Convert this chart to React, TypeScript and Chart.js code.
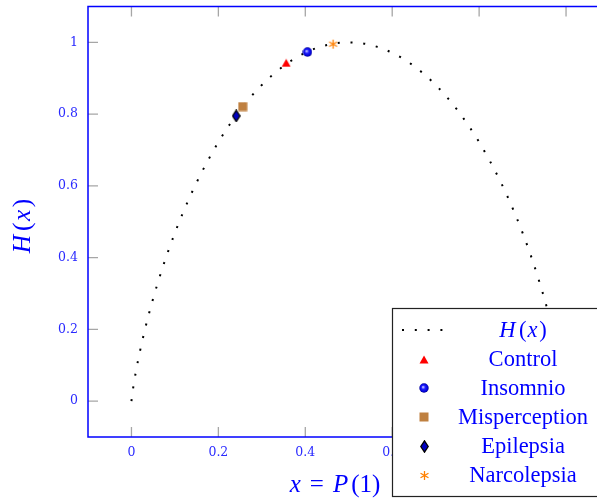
import React, { useEffect, useRef } from 'react';
import { Chart, registerables } from 'chart.js';

Chart.register(...registerables);

// ---- data ----
const curveX = [0, 0.001, 0.002, 0.005, 0.01, 0.02, 0.03, 0.04, 0.05, 0.06, 0.08, 0.1, 0.12, 0.15, 0.2, 0.25, 0.3, 0.35, 0.4, 0.45,
  0.5,
  0.55, 0.6, 0.65, 0.7, 0.75, 0.8, 0.85, 0.88, 0.9, 0.92, 0.94, 0.95, 0.96, 0.97, 0.98, 0.99, 0.995, 0.998, 0.999, 1];
const curveY = [0, 0.0114, 0.0208, 0.0454, 0.0808, 0.1414, 0.1944, 0.2423, 0.2864, 0.3274, 0.4022, 0.469, 0.5294, 0.6098, 0.7219, 0.8113, 0.8813, 0.9341, 0.971, 0.9928,
  1,
  0.9928, 0.971, 0.9341, 0.8813, 0.8113, 0.7219, 0.6098, 0.5294, 0.469, 0.4022, 0.3274, 0.2864, 0.2423, 0.1944, 0.1414, 0.0808, 0.0454, 0.0208, 0.0114, 0];

const groups = ['Control', 'Insomnio', 'Misperception', 'Epilepsia', 'Narcolepsia'];
const groupX = [0.356, 0.405, 0.256, 0.241, 0.464];
const groupY = [0.943, 0.973, 0.821, 0.795, 0.995];

const xTicks = [0, 0.2, 0.4, 0.6, 0.8, 1];
const yTicks = [0, 0.2, 0.4, 0.6, 0.8, 1];

// ---- styles ----
const BLUE = '#0000ff';
const TICK_BLUE = '#2a2aff';
const TICK_GREY = '#a6a6a6';
const SERIF = '"Liberation Serif", serif';

function makeCanvas(w: number, h: number, draw: (g: CanvasRenderingContext2D) => void) {
  const c = document.createElement('canvas');
  c.width = w;
  c.height = h;
  const g = c.getContext('2d')!;
  draw(g);
  return c;
}

function makeMarkers() {
  const tri = makeCanvas(10, 9, (g) => {
    g.fillStyle = '#ff0000';
    g.beginPath();
    g.moveTo(5, 0.5);
    g.lineTo(9.5, 8.5);
    g.lineTo(0.5, 8.5);
    g.closePath();
    g.fill();
  });
  const ball = makeCanvas(10, 10, (g) => {
    const gr = g.createRadialGradient(4, 4, 0.3, 5, 5, 5);
    gr.addColorStop(0, '#c8c8ff');
    gr.addColorStop(0.35, '#2020ff');
    gr.addColorStop(0.8, '#0000d0');
    gr.addColorStop(1, '#00006a');
    g.fillStyle = gr;
    g.beginPath();
    g.arc(5, 5, 4.7, 0, Math.PI * 2);
    g.fill();
  });
  const sq = makeCanvas(10, 10, (g) => {
    g.fillStyle = '#bf8040';
    g.fillRect(0.5, 0.5, 9, 9);
  });
  const dia = makeCanvas(9, 13, (g) => {
    g.fillStyle = '#0000c0';
    g.strokeStyle = '#000';
    g.lineWidth = 1.3;
    g.beginPath();
    g.moveTo(4.5, 0.8);
    g.lineTo(8.2, 6.5);
    g.lineTo(4.5, 12.2);
    g.lineTo(0.8, 6.5);
    g.closePath();
    g.fill();
    g.stroke();
  });
  const ast = makeCanvas(11, 11, (g) => {
    g.strokeStyle = '#ff8000';
    g.lineWidth = 1.3;
    g.beginPath();
    for (let k = 0; k < 3; k++) {
      const a = Math.PI / 2 + (k * Math.PI) / 3;
      g.moveTo(5.5 + 4.6 * Math.cos(a), 5.5 + 4.6 * Math.sin(a));
      g.lineTo(5.5 - 4.6 * Math.cos(a), 5.5 - 4.6 * Math.sin(a));
    }
    g.stroke();
  });
  return [tri, ball, sq, dia, ast];
}

type Seg = { t: string; it?: boolean; gap?: number };

function drawMath(ctx: CanvasRenderingContext2D, segs: Seg[], cx: number, baseline: number, size: number) {
  const fontOf = (s: Seg) => `${s.it ? 'italic ' : ''}${size}px ${SERIF}`;
  let total = 0;
  const widths = segs.map((s) => {
    ctx.font = fontOf(s);
    const w = ctx.measureText(s.t).width;
    total += w + (s.gap || 0);
    return w;
  });
  let x = cx - total / 2;
  ctx.textAlign = 'left';
  ctx.textBaseline = 'alphabetic';
  segs.forEach((s, i) => {
    ctx.font = fontOf(s);
    ctx.fillText(s.t, x, baseline);
    x += widths[i] + (s.gap || 0);
  });
}

const framePlugin = {
  id: 'frame',
  beforeDatasetsDraw(chart: any) {
    const { ctx, chartArea: a, scales } = chart;
    ctx.save();
    ctx.strokeStyle = TICK_GREY;
    ctx.lineWidth = 1.3;
    ctx.beginPath();
    xTicks.forEach((v) => {
      const px = scales.x.getPixelForValue(v);
      ctx.moveTo(px, a.bottom);
      ctx.lineTo(px, a.bottom - 10);
      ctx.moveTo(px, a.top);
      ctx.lineTo(px, a.top + 10);
    });
    yTicks.forEach((v) => {
      const py = scales.y.getPixelForValue(v);
      ctx.moveTo(a.left, py);
      ctx.lineTo(a.left + 10, py);
      ctx.moveTo(a.right, py);
      ctx.lineTo(a.right - 10, py);
    });
    ctx.stroke();
    ctx.strokeStyle = BLUE;
    ctx.lineWidth = 1.5;
    ctx.strokeRect(a.left, a.top, a.right - a.left, a.bottom - a.top);
    ctx.restore();
  },
  afterDraw(chart: any) {
    const { ctx } = chart;
    ctx.save();
    ctx.fillStyle = BLUE;
    // x axis title
    drawMath(ctx, [
      { t: 'x', it: true, gap: 9 },
      { t: '=', gap: 9 },
      { t: 'P', it: true, gap: 3 },
      { t: '(1)' },
    ], 335, 492, 25);
    // y axis title
    ctx.save();
    ctx.translate(23, 226);
    ctx.rotate(-Math.PI / 2);
    drawMath(ctx, [
      { t: 'H', it: true, gap: 4 },
      { t: '(', gap: 1.5 },
      { t: 'x', it: true, gap: 2.5 },
      { t: ')' },
    ], 0, 7, 25.5);
    ctx.restore();

    // legend
    const lx = 392.5, ly = 308.5;
    ctx.fillStyle = '#ffffff';
    ctx.fillRect(lx, ly, 260, 188);
    ctx.strokeStyle = '#222';
    ctx.lineWidth = 1.2;
    ctx.strokeRect(lx, ly, 260, 188);
    const mx = 424, tx = 523;
    chart.data.datasets.forEach((ds: any, i: number) => {
      const cy = 330 + i * 29;
      if (i === 0) {
        ctx.save();
        ctx.strokeStyle = '#000';
        ctx.lineWidth = 2;
        ctx.setLineDash([2, 10.8]);
        ctx.beginPath();
        ctx.moveTo(402, cy);
        ctx.lineTo(444, cy);
        ctx.stroke();
        ctx.restore();
        ctx.fillStyle = BLUE;
        drawMath(ctx, [
          { t: 'H', it: true, gap: 3.5 },
          { t: '(', gap: 1 },
          { t: 'x', it: true, gap: 2 },
          { t: ')' },
        ], tx, cy + 7, 22.5);
      } else {
        const img = ds.pointStyle as HTMLCanvasElement;
        ctx.drawImage(img, Math.round(mx - img.width / 2), Math.round(cy - img.height / 2));
        ctx.fillStyle = BLUE;
        ctx.font = `22.5px ${SERIF}`;
        ctx.textAlign = 'center';
        ctx.textBaseline = 'alphabetic';
        ctx.fillText(ds.label, tx, cy + 7);
      }
    });
    ctx.restore();
  },
};

export default function App() {
  const ref = useRef<HTMLCanvasElement>(null);
  useEffect(() => {
    const canvas = ref.current!;
    const markers = makeMarkers();
    const tickFont = { family: '"DejaVu Serif", serif', size: 12.5 };
    const chart = new Chart(canvas, {
      type: 'scatter',
      data: {
        datasets: [
          {
            type: 'line',
            label: 'H(x)',
            data: curveX.map((x, i) => ({ x, y: curveY[i] })),
            borderColor: '#000',
            borderWidth: 2,
            borderDash: [2, 10.8],
            borderCapStyle: 'butt',
            pointRadius: 0,
            cubicInterpolationMode: 'monotone',
            fill: false,
            order: 2,
          } as any,
          ...groups.map((g, i) => ({
            label: g,
            data: [{ x: groupX[i], y: groupY[i] }],
            pointStyle: markers[i],
            pointRadius: 5,
            showLine: false,
            order: 1,
          })),
        ],
      },
      options: {
        responsive: false,
        animation: false,
        devicePixelRatio: 1,
        layout: { padding: { left: 0, top: 6.5, right: 10.5, bottom: 0 } },
        plugins: { legend: { display: false }, tooltip: { enabled: false } },
        scales: {
          x: {
            type: 'linear',
            min: -0.1,
            max: 1.1,
            afterBuildTicks: (s: any) => {
              s.ticks = xTicks.map((v) => ({ value: v }));
            },
            afterFit: (s: any) => {
              s.height = 61;
              s.paddingLeft = 0;
              s.paddingRight = 0;
              s.paddingTop = 0;
              s.paddingBottom = 0;
            },
            grid: { display: false, drawTicks: false },
            border: { display: false },
            ticks: {
              padding: 8,
              color: TICK_BLUE,
              font: tickFont,
              maxRotation: 0,
              autoSkip: false,
              callback: (v: any) => String(v),
            },
          },
          y: {
            type: 'linear',
            min: -0.1,
            max: 1.1,
            afterBuildTicks: (s: any) => {
              s.ticks = yTicks.map((v) => ({ value: v }));
            },
            afterFit: (s: any) => {
              s.width = 88;
              s.paddingLeft = 0;
              s.paddingRight = 0;
              s.paddingTop = 0;
              s.paddingBottom = 0;
            },
            grid: { display: false, drawTicks: false },
            border: { display: false },
            ticks: {
              padding: 10,
              color: TICK_BLUE,
              font: tickFont,
              autoSkip: false,
              callback: (v: any) => String(v),
            },
          },
        },
      } as any,
      plugins: [framePlugin],
    });
    return () => chart.destroy();
  }, []);

  return (
    <div style={{ position: 'fixed', left: 0, top: 0, width: 597, height: 498, overflow: 'hidden', background: '#fff' }}>
      <canvas ref={ref} width={620} height={498} style={{ display: 'block', position: 'absolute', left: 0, top: 0 }} />
    </div>
  );
}
